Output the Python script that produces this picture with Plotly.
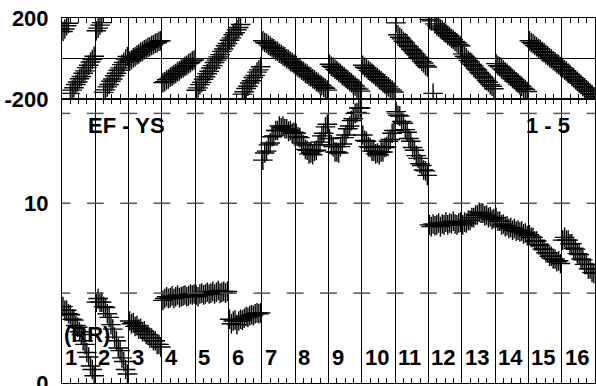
import plotly.graph_objects as go
from plotly.subplots import make_subplots

segments = list(range(1, 17))
offsets = [0.03, 0.085, 0.14, 0.195, 0.25, 0.305, 0.36, 0.415, 0.47,
           0.525, 0.58, 0.635, 0.69, 0.745, 0.8, 0.855, 0.91, 0.965]

# phase (deg) read per segment
phase = [
    [133, 146, 162, 174, -172, -156, -144, -128, -116, -100, -89, -73, -61, -45, -33, -17, -5, 11],
    [137, 150, 165, 177, -167, -155, -140, -128, -112, -101, -85, -73, -58, -46, -30, -19, -3, 10],
    [-13, -6, 3, 9, 17, 22, 31, 35, 43, 47, 55, 58, 65, 68, 75, 78, 85, 88],
    [-119, -114, -105, -101, -92, -87, -79, -74, -65, -61, -52, -47, -39, -34, -25, -21, -12, -7],
    [-157, -145, -129, -118, -102, -90, -75, -63, -47, -35, -20, -8, 8, 19, 35, 47, 63, 74],
    [90, 102, 117, 127, 142, 153, 168, -176, -164, -148, -137, -121, -110, -94, -83, -67, -56, -41],
    [88, 79, 75, 66, 61, 53, 48, 39, 35, 26, 21, 13, 8, -1, -5, -14, -19, -27],
    [-35, -44, -49, -58, -63, -72, -77, -86, -91, -100, -105, -114, -119, -128, -133, -142, -147, -156],
    [-28, -38, -43, -53, -59, -69, -74, -84, -90, -99, -105, -115, -120, -130, -136, -146, -151, -161],
    [-33, -43, -48, -58, -64, -73, -79, -89, -94, -104, -110, -119, -125, -135, -140, -150, -156, -165],
    [176, 117, 105, 97, 85, 77, 65, 58, 46, 38, 26, 18, 6, -2, -14, -22, -34, -42],
    [193, 186, -172, 171, 161, 155, 146, 140, 130, 125, 115, 109, 99, 94, 84, 78, 69, 62],
    [23, 11, 3, -9, -17, -29, -37, -49, -57, -69, -77, -89, -97, -109, -117, -129, -137, -149],
    [-25, -35, -41, -51, -57, -67, -73, -83, -89, -99, -105, -115, -121, -131, -137, -147, -153, -163],
    [88, 79, 73, 64, 58, 49, 44, 34, 29, 19, 14, 5, -1, -10, -16, -25, -30, -40],
    [-45, -56, -62, -72, -78, -89, -95, -105, -112, -122, -128, -139, -145, -155, -162, -172, -178, -189],
]

# amplitude read per segment
amp = [
    [4.25, 4.05, 4.05, 3.85, 3.8, 3.55, 3.5, 3.2, 3.1, 2.85, 2.7, 2.35, 2.15, 1.7, 1.45, 0.95, 0.75, 0.4],
    [4.5, 4.7, 4.5, 4.5, 4.25, 4.2, 3.85, 3.65, 3.25, 3.0, 2.55, 2.35, 1.95, 1.8, 1.4, 1.2, 0.75, 0.5],
    [3.45, 3.3, 3.35, 3.15, 3.2, 3.0, 3.05, 2.85, 2.9, 2.7, 2.7, 2.5, 2.5, 2.35, 2.35, 2.15, 2.15, 2.0],
    [4.6, 4.7, 4.8, 4.7, 4.75, 4.85, 4.7, 4.8, 4.9, 4.75, 4.8, 4.85, 4.9, 4.8, 4.85, 4.95, 4.9, 4.95],
    [4.9, 4.8, 4.95, 5.0, 4.9, 4.95, 5.05, 4.95, 5.0, 5.1, 4.95, 5.05, 5.15, 5.0, 5.05, 5.1, 5.0, 5.1],
    [3.55, 3.3, 3.45, 3.5, 3.25, 3.45, 3.55, 3.5, 3.6, 3.7, 3.65, 3.75, 3.8, 3.75, 3.85, 3.9, 3.85, 3.9],
    [12.4, 12.8, 12.9, 13.25, 13.35, 13.7, 13.75, 14.05, 14.05, 14.3, 14.2, 14.3, 14.15, 14.15, 14.0, 14.05, 13.9, 13.95],
    [13.9, 13.7, 13.65, 13.35, 13.25, 13.0, 12.95, 12.75, 12.8, 12.7, 12.9, 12.95, 13.25, 13.4, 13.75, 13.9, 14.25, 14.4],
    [13.6, 13.25, 13.15, 12.85, 12.85, 12.8, 13.15, 13.3, 13.65, 13.8, 14.15, 14.3, 14.6, 14.7, 15.0, 15.05, 15.3, 15.3],
    [13.8, 13.5, 13.45, 13.15, 13.1, 12.9, 12.9, 12.75, 12.8, 12.7, 12.85, 12.85, 13.1, 13.15, 13.45, 13.55, 13.9, 14.05],
    [15.1, 14.9, 14.85, 14.55, 14.45, 14.1, 13.95, 13.6, 13.45, 13.1, 12.95, 12.65, 12.5, 12.2, 12.1, 11.85, 11.8, 11.55],
    [8.8, 8.7, 8.85, 8.75, 8.8, 8.9, 8.7, 8.85, 8.8, 8.95, 8.8, 8.9, 8.85, 9.0, 8.85, 8.8, 8.9, 8.95],
    [8.8, 8.95, 8.9, 9.05, 9.05, 9.2, 9.2, 9.35, 9.35, 9.5, 9.45, 9.45, 9.3, 9.35, 9.2, 9.25, 9.1, 9.15],
    [9.2, 9.0, 9.0, 8.8, 8.85, 8.7, 8.75, 8.6, 8.65, 8.5, 8.6, 8.45, 8.5, 8.4, 8.45, 8.3, 8.35, 8.2],
    [8.25, 8.1, 8.1, 7.9, 7.9, 7.7, 7.65, 7.45, 7.45, 7.25, 7.25, 7.05, 7.05, 6.9, 6.9, 6.75, 6.8, 6.65],
    [7.95, 8.1, 7.95, 7.95, 7.75, 7.75, 7.5, 7.45, 7.2, 7.15, 6.9, 6.85, 6.6, 6.6, 6.35, 6.35, 6.15, 6.1],
]

amp_ticks = [0, 5, 10, 15]
amp_ticktext = ["0", "", "10", ""]
phase_ticks = [-200, 0, 200]
phase_ticktext = ["-200", "", "200"]

FONT = "Liberation Sans, Arial, sans-serif"

xs, ph, am = [], [], []
for i, seg in enumerate(segments):
    for j, off in enumerate(offsets):
        xs.append(seg - 1 + off)
        ph.append(phase[i][j])
        am.append(amp[i][j])

fig = make_subplots(rows=2, cols=1, shared_xaxes=True, vertical_spacing=0,
                    row_heights=[0.222, 0.778])

mk = dict(symbol="cross-thin", size=14, line=dict(width=1.4, color="black"), color="black")
fig.add_trace(go.Scatter(x=xs, y=ph, mode="markers", marker=mk, showlegend=False), row=1, col=1)
fig.add_trace(go.Scatter(x=xs, y=am, mode="markers", marker=mk, showlegend=False), row=2, col=1)

# short dashes across the segment lines at the amplitude ticks
dx, dy = [], []
for k in range(0, len(segments) + 1):
    for t in amp_ticks[1:]:
        dx.append(k)
        dy.append(t)
fig.add_trace(go.Scatter(x=dx, y=dy, mode="markers", showlegend=False,
                         marker=dict(symbol="line-ew", size=12,
                                     line=dict(width=1.5, color="#555"))), row=2, col=1)

xcommon = dict(range=[0, 16], dtick=1, tick0=0, showgrid=True, gridcolor="black", gridwidth=1,
               showticklabels=False, ticks="", showline=True, linecolor="black", linewidth=1,
               mirror="ticks", zeroline=False, automargin=False,
               minor=dict(dtick=0.25, ticks="inside", ticklen=5, tickcolor="black", showgrid=False))
fig.update_xaxes(**xcommon)

fig.update_yaxes(range=[-200, 200], tickvals=phase_ticks, ticktext=phase_ticktext,
                 showgrid=True, gridcolor="black", gridwidth=1, zeroline=False,
                 showline=True, linecolor="black", mirror=True, ticks="",
                 ticklabelstandoff=8, automargin=False, ticklabeloverflow="allow",
                 tickfont=dict(family=FONT, size=22, color="black", weight="bold"),
                 row=1, col=1)
fig.update_yaxes(range=[0, 15.8], tickvals=amp_ticks, ticktext=amp_ticktext,
                 showgrid=False, zeroline=False, showline=True, linecolor="black",
                 mirror=True, ticks="", ticklabelstandoff=8, automargin=False,
                 ticklabeloverflow="allow",
                 tickfont=dict(family=FONT, size=22, color="black", weight="bold"),
                 row=2, col=1)

afont = dict(family=FONT, size=22, color="black", weight="bold")
notes = [
    dict(x=1.95, y=14.3, text="EF - YS", xanchor="center"),
    dict(x=14.6, y=14.3, text="1 - 5", xanchor="center"),
    dict(x=0.03, y=2.7, text="(RR)", xanchor="left"),
]
for s in segments:
    notes.append(dict(x=s - 1 + 0.06, y=1.42, text=str(s), xanchor="left"))
for n in notes:
    fig.add_annotation(xref="x2", yref="y2", showarrow=False, font=afont,
                       yanchor="middle", borderpad=0, **n)

fig.update_layout(width=596, height=386, margin=dict(l=62, r=1, t=18, b=3),
                  plot_bgcolor="white", paper_bgcolor="white")

fig.write_html("out.html", config={"displayModeBar": False},
               post_script="document.body.style.margin='0';")
